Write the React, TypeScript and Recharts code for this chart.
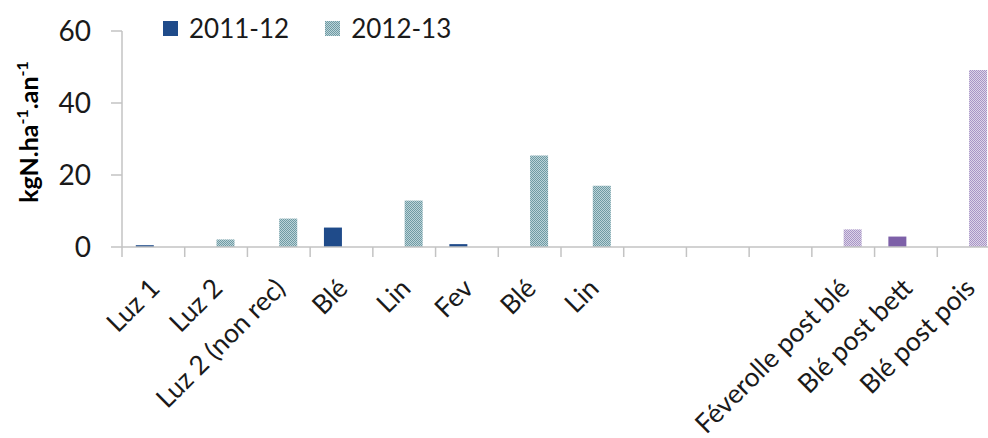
import React from "react";
import { Bar, BarChart, XAxis, YAxis } from "recharts";

const categories = [
  "Luz 1",
  "Luz 2",
  "Luz 2 (non rec)",
  "Blé",
  "Lin",
  "Fev",
  "Blé",
  "Lin",
  "",
  "",
  "",
  "Féverolle post blé",
  "Blé post bett",
  "Blé post pois",
];
const serie2011 = [0.5, null, null, 5.4, null, 0.8, null, null, null, null, null, null, null, null];
const serie2012 = [null, 2.1, 7.9, null, 12.9, null, 25.4, 17.0, null, null, null, null, null, null];
const serie2011b = [null, null, null, null, null, null, null, null, null, null, null, null, 2.9, null];
const serie2012b = [null, null, null, null, null, null, null, null, null, null, null, 4.9, null, 49.2];
const yTicks = [0, 20, 40, 60];
const legendNames = ["2011-12", "2012-13"];

const data = categories.map((name, i) => ({
  name,
  a: serie2011[i],
  b: serie2012[i],
  c: serie2011b[i],
  d: serie2012b[i],
}));

const FONT = "Lato, 'Open Sans', sans-serif";
const AXIS = "#c3c3c3";
const BLUE = "#1f4b8a";
const PURPLE = "#7d60a8";

function XTick(props: any) {
  const { x, y, payload } = props;
  const half = payload.offset ?? 31.35;
  return (
    <g>
      <line x1={x - half} x2={x - half} y1={y} y2={y + 10} stroke={AXIS} strokeWidth={1.5} />
      <text
        transform={`translate(${x + 8},${y + 43}) rotate(-45)`}
        textAnchor="end"
        fontFamily={FONT}
        fontSize={26.5}
        fill="#1a1a1a"
      >
        {payload.value}
      </text>
    </g>
  );
}

function YLabel() {
  return (
    <text
      transform="translate(38,132) rotate(-90)"
      textAnchor="middle"
      fontFamily={FONT}
      fontWeight={700}
      fontSize={25}
      fill="#000"
    >
      kgN.ha
      <tspan dy={-10} fontSize={16}>-1</tspan>
      <tspan dy={10}>.an</tspan>
      <tspan dy={-10} fontSize={16}>-1</tspan>
    </text>
  );
}

function Patterns() {
  return (
    <svg width={0} height={0} style={{ position: "absolute" }}>
      <defs>
        <pattern id="pTeal" width={2} height={2} patternUnits="userSpaceOnUse">
          <rect width={2} height={2} fill="#bcd4d9" />
          <rect width={1} height={1} fill="#6f9aa3" />
          <rect x={1} y={1} width={1} height={1} fill="#6f9aa3" />
        </pattern>
        <pattern id="pLilac" width={2} height={2} patternUnits="userSpaceOnUse">
          <rect width={2} height={2} fill="#dcd4e8" />
          <rect width={1} height={1} fill="#a895c6" />
          <rect x={1} y={1} width={1} height={1} fill="#a895c6" />
        </pattern>
      </defs>
    </svg>
  );
}

export default function App() {
  const swatches = [BLUE, "url(#pTeal)"];
  return (
    <div
      style={{
        position: "fixed",
        left: 0,
        top: 0,
        width: 988,
        height: 438,
        overflow: "hidden",
        background: "#fff",
      }}
    >
      <Patterns />
      <BarChart
        width={1000}
        height={438}
        data={data}
        margin={{ top: 31, right: 0, bottom: 0, left: 0 }}
        barCategoryGap="22%"
        barGap={0}
      >
        <XAxis
          dataKey="name"
          interval={0}
          height={191}
          axisLine={{ stroke: AXIS, strokeWidth: 1.5 }}
          tickLine={false}
          tickSize={0}
          tickMargin={0}
          tick={<XTick />}
        />
        <YAxis
          width={122}
          domain={[0, 60]}
          ticks={yTicks}
          axisLine={{ stroke: AXIS, strokeWidth: 1.5 }}
          tickLine={{ stroke: AXIS, strokeWidth: 1.5 }}
          tickSize={11}
          tickMargin={20}
          tick={{ fontFamily: FONT, fontSize: 28, fill: "#1a1a1a" }}
          label={{ content: () => <YLabel /> }}
        />
        <Bar dataKey="a" stackId="y1" fill={BLUE} isAnimationActive={false} />
        <Bar dataKey="c" stackId="y1" fill={PURPLE} isAnimationActive={false} />
        <Bar dataKey="b" stackId="y2" fill="url(#pTeal)" isAnimationActive={false} />
        <Bar dataKey="d" stackId="y2" fill="url(#pLilac)" isAnimationActive={false} />
      </BarChart>
      <div
        style={{
          position: "absolute",
          left: 163,
          top: 12,
          display: "flex",
          alignItems: "center",
          fontFamily: FONT,
          fontSize: 26,
          color: "#1a1a1a",
        }}
      >
        {legendNames.map((n, i) => (
          <div key={n} style={{ display: "flex", alignItems: "center", marginRight: 36 }}>
            <svg width={15} height={15} style={{ marginRight: 11 }}>
              <rect width={15} height={15} fill={swatches[i]} />
            </svg>
            <span>{n}</span>
          </div>
        ))}
      </div>
    </div>
  );
}
